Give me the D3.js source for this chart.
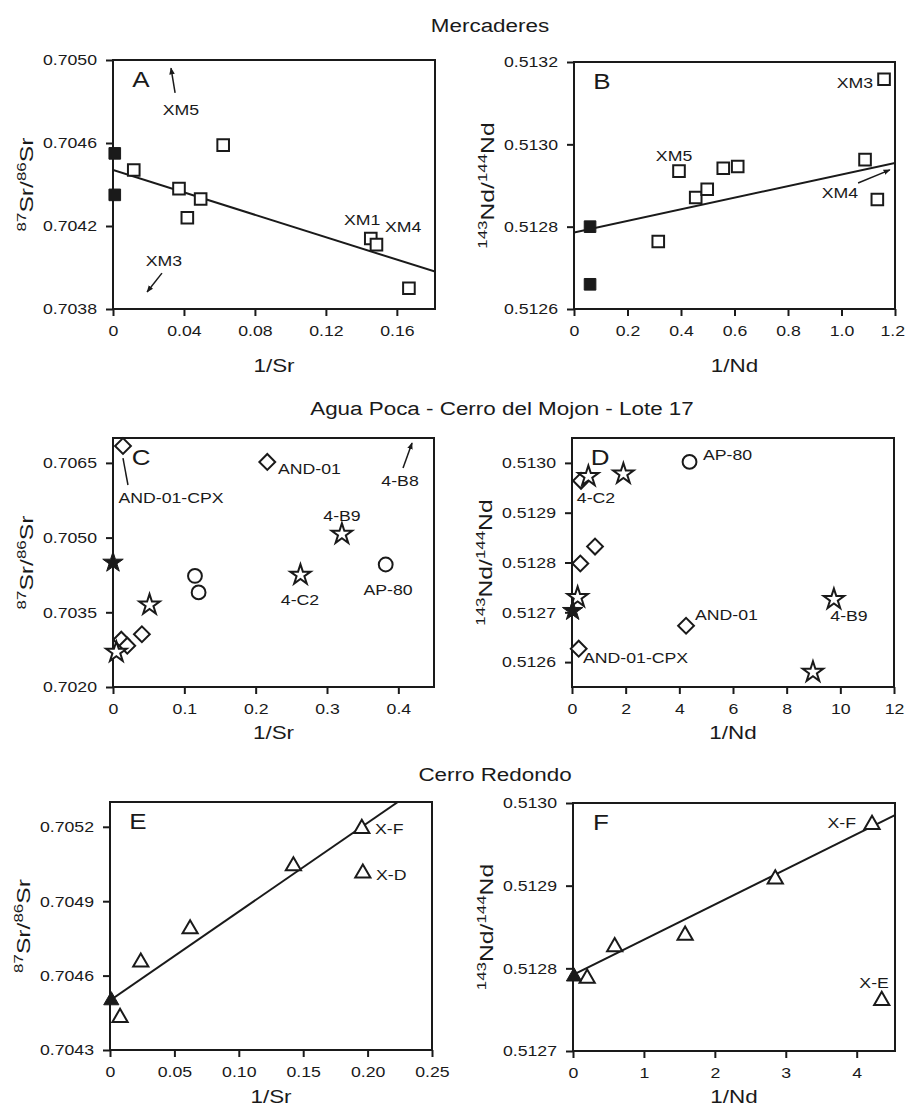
<!DOCTYPE html>
<html>
<head>
<meta charset="utf-8">
<script src="https://cdn.jsdelivr.net/npm/d3@7"></script>
<style>
  body { margin: 0; background: #fff; }
  svg { display: block; font-family: "Liberation Sans", Arial, Helvetica, sans-serif; }
  .tick line { stroke: #1a1a1a; stroke-width: 2; }
  .tick text { fill: #1a1a1a; font-size: 15px; }
</style>
</head>
<body>
<svg id="chart" width="906" height="1108"></svg>
<script>
(function (d3) {

    /***** Data: Mercaderes *****/
    var mercSrTicks = [0, 0.04, 0.08, 0.12, 0.16];
    var mercSrTickLabels = ["0", "0.04", "0.08", "0.12", "0.16"];
    var mercSrRatioTicks = [0.7038, 0.7042, 0.7046, 0.7050];
    var mercSrMantle = [[0.001, 0.70455], [0.001, 0.70435]];
    var mercSrSamples = [[0.0117, 0.70447], [0.0372, 0.70438], [0.0419, 0.70424], [0.0494, 0.70433],
                         [0.0621, 0.70459], [0.1453, 0.70414], [0.1485, 0.70411], [0.1668, 0.70390]];
    var mercSrFit = [[0, 0.70447], [0.1815, 0.70398]];
    var mercSrLabels = [["XM5", 0.0383, 0.704759], ["XM3", 0.0287, 0.704031],
                        ["XM1", 0.1404, 0.704229], ["XM4", 0.1635, 0.704195]];
    var mercSrArrows = [[0.035, 0.704841, 0.0327, 0.704961], [0.0276, 0.703973, 0.0192, 0.703882]];

    var mercNdTicks = [0, 0.2, 0.4, 0.6, 0.8, 1.0, 1.2];
    var mercNdTickLabels = ["0", "0.2", "0.4", "0.6", "0.8", "1.0", "1.2"];
    var mercNdRatioTicks = [0.5126, 0.5128, 0.5130, 0.5132];
    var mercNdMantle = [[0.06, 0.51280], [0.06, 0.51266]];
    var mercNdSamples = [[0.315, 0.512764], [0.3925, 0.512935], [0.455, 0.512871], [0.498, 0.512891],
                         [0.558, 0.512942], [0.612, 0.512946], [1.088, 0.512963], [1.134, 0.512866],
                         [1.159, 0.513158]];
    var mercNdFit = [[0, 0.512786], [1.2, 0.512955]];
    var mercNdLabels = [["XM5", 0.374, 0.512972], ["XM3", 1.05, 0.513149], ["XM4", 0.994, 0.512882]];
    var mercNdArrows = [[1.062, 0.512906, 1.181, 0.512938]];

    /***** Data: Agua Poca - Cerro del Mojon - Lote 17 *****/
    var aguaSrTicks = [0, 0.1, 0.2, 0.3, 0.4];
    var aguaSrTickLabels = ["0", "0.1", "0.2", "0.3", "0.4"];
    var aguaSrRatioTicks = [0.7020, 0.7035, 0.7050, 0.7065];
    var aguaSrMantle = [[0.0, 0.7045]];
    var aguaSrStars = [[0.0047, 0.70270], [0.0512, 0.70365], [0.2628, 0.70425], [0.3209, 0.70507]];
    var aguaSrDiamonds = [[0.014, 0.70684], [0.0116, 0.70295], [0.02, 0.70283], [0.0405, 0.70306], [0.2163, 0.70652]];
    var aguaSrCircles = [[0.1149, 0.70423], [0.12, 0.7039], [0.3823, 0.70446]];
    var aguaSrLabels = [["AND-01-CPX", 0.0813, 0.705795], ["4-B8", 0.4024, 0.706137], ["4-B9", 0.321, 0.705434],
                        ["4-C2", 0.2622, 0.703747], ["AP-80", 0.3855, 0.703948], ["AND-01", 0.2313, 0.706378, "start"]];
    var aguaSrArrows = [[0.4066, 0.706398, 0.4192, 0.7069]];
    var aguaSrLeaders = [[0.014, 0.706598, 0.021, 0.706056]];

    var aguaNdTicks = [0, 2, 4, 6, 8, 10, 12];
    var aguaNdTickLabels = ["0", "2", "4", "6", "8", "10", "12"];
    var aguaNdRatioTicks = [0.5126, 0.5127, 0.5128, 0.5129, 0.5130];
    var aguaNdMantle = [[0.025, 0.512703]];
    var aguaNdStars = [[0.61, 0.512973], [1.915, 0.512978], [0.21, 0.51273], [9.76, 0.512726], [8.98, 0.51258]];
    var aguaNdDiamonds = [[0.336, 0.512964], [0.31, 0.512798], [0.858, 0.512832], [4.25, 0.512673], [0.25, 0.512627]];
    var aguaNdCircles = [[4.38, 0.513002]];
    var aguaNdLabels = [["AP-80", 4.883, 0.513016, "start"], ["4-C2", 0.894, 0.51293],
                        ["AND-01", 4.584, 0.512695, "start"], ["4-B9", 10.324, 0.512693],
                        ["AND-01-CPX", 0.41, 0.512608, "start"]];

    /***** Data: Cerro Redondo *****/
    var redSrTicks = [0, 0.05, 0.10, 0.15, 0.20, 0.25];
    var redSrTickLabels = ["0", "0.05", "0.10", "0.15", "0.20", "0.25"];
    var redSrRatioTicks = [0.7043, 0.7046, 0.7049, 0.7052];
    var redSrMantle = [[0.001, 0.7045]];
    var redSrSamples = [[0.0078, 0.704431], [0.0239, 0.704654], [0.0622, 0.704788], [0.1424, 0.705042],
                        [0.1955, 0.705193], [0.1963, 0.705013]];
    var redSrFit = [[0, 0.7045], [0.2235, 0.7053]];
    var redSrLabels = [["X-F", 0.2057, 0.705191, "start"], ["X-D", 0.2065, 0.705006, "start"]];

    var redNdTicks = [0, 1, 2, 3, 4];
    var redNdTickLabels = ["0", "1", "2", "3", "4"];
    var redNdRatioTicks = [0.5127, 0.5128, 0.5129, 0.5130];
    var redNdMantle = [[0.014, 0.51279]];
    var redNdSamples = [[0.2, 0.512788], [0.588, 0.512826], [1.581, 0.51284], [2.852, 0.512908],
                        [4.216, 0.512974], [4.353, 0.512761]];
    var redNdFit = [[0, 0.512792], [4.532, 0.512985]];
    var redNdLabels = [["X-F", 3.99, 0.512976, "end"], ["X-E", 4.245, 0.512783]];

    /***** Configuration *****/
    var SX = 1.18;           // the original lettering is a wide grotesque
    var ink = "#1a1a1a";
    var svg = d3.select("#chart");

    svg.append("defs").append("marker")
        .attr("id", "arrow")
        .attr("viewBox", "0 0 10 10")
        .attr("refX", 9).attr("refY", 5)
        .attr("markerWidth", 7).attr("markerHeight", 7)
        .attr("markerUnits", "userSpaceOnUse")
        .attr("orient", "auto")
        .append("path").attr("d", "M0,1L10,5L0,9Z").attr("fill", ink);

    function addText(g, x, y, str, size, anchor) {
        return g.append("text")
            .attr("transform", "translate(" + x + "," + y + ") scale(" + SX + ",1)")
            .attr("text-anchor", anchor || "middle")
            .attr("font-size", size)
            .attr("fill", ink)
            .text(str);
    }

    var symbols = {
        square: d3.symbol().type(d3.symbolSquare).size(135),
        diamond: d3.symbol().type(d3.symbolSquare).size(125),
        star: d3.symbol().type(d3.symbolStar).size(130),
        circle: d3.symbol().type(d3.symbolCircle).size(150),
        triangle: d3.symbol().type(d3.symbolTriangle).size(100)
    };

    function drawPanel(p) {
        var x = d3.scaleLinear().domain(p.xDomain).range([p.left, p.right]);
        var y = d3.scaleLinear().domain(p.yDomain).range([p.bottom, p.top]);
        var g = svg.append("g");

        var xAxis = d3.axisBottom(x).tickValues(p.xTicks).tickSize(7).tickSizeOuter(0).tickPadding(9)
            .tickFormat(function (d, i) { return p.xTickLabels[i]; });
        var yAxis = d3.axisLeft(y).tickValues(p.yTicks).tickSize(7).tickSizeOuter(0).tickPadding(9)
            .tickFormat(d3.format(".4f"));

        var gx = g.append("g").attr("transform", "translate(0," + p.bottom + ")").call(xAxis);
        var gy = g.append("g").attr("transform", "translate(" + p.left + ",0)").call(yAxis);
        gx.select(".domain").remove();
        gy.select(".domain").remove();
        gx.selectAll("text").attr("transform", "scale(" + SX + ",1)").attr("font-family", null);
        gy.selectAll("text").attr("transform", "scale(" + SX + ",1)").attr("x", -16 / SX).attr("font-family", null);
        g.selectAll(".tick text").attr("font-size", null);

        // keep the last tick label inside the page, as in the printed figure
        gx.selectAll("text").each(function () {
            var r = this.getBoundingClientRect();
            if (r.right > 905) d3.select(this).attr("x", (905 - r.right) / SX);
        });

        g.append("rect")
            .attr("x", p.left).attr("y", p.top)
            .attr("width", p.right - p.left).attr("height", p.bottom - p.top)
            .attr("fill", "none").attr("stroke", ink).attr("stroke-width", 2);

        var clip = "clip-" + p.letter;
        svg.select("defs").append("clipPath").attr("id", clip)
            .append("rect").attr("x", p.left).attr("y", p.top)
            .attr("width", p.right - p.left).attr("height", p.bottom - p.top);

        if (p.fit) {
            g.append("path")
                .attr("clip-path", "url(#" + clip + ")")
                .attr("d", d3.line().x(function (d) { return x(d[0]); }).y(function (d) { return y(d[1]); })(p.fit))
                .attr("fill", "none").attr("stroke", ink).attr("stroke-width", 2);
        }

        (p.leaders || []).forEach(function (a) {
            g.append("line").attr("x1", x(a[0])).attr("y1", y(a[1])).attr("x2", x(a[2])).attr("y2", y(a[3]))
                .attr("stroke", ink).attr("stroke-width", 1.5);
        });
        (p.arrows || []).forEach(function (a) {
            g.append("line").attr("x1", x(a[0])).attr("y1", y(a[1])).attr("x2", x(a[2])).attr("y2", y(a[3]))
                .attr("stroke", ink).attr("stroke-width", 1.5).attr("marker-end", "url(#arrow)");
        });

        p.series.forEach(function (s) {
            g.selectAll(null).data(s.data).enter().append("path")
                .attr("transform", function (d) {
                    return "translate(" + x(d[0]) + "," + y(d[1]) + ")" + (s.shape === "diamond" ? " rotate(45)" : "");
                })
                .attr("d", symbols[s.shape])
                .attr("fill", s.filled ? ink : "#fff")
                .attr("stroke", ink)
                .attr("stroke-width", s.filled ? 1 : 2);
        });

        (p.labels || []).forEach(function (l) {
            addText(g, x(l[1]), y(l[2]), l[0], 15, l[3]).attr("dy", "0.35em");
        });

        addText(g, p.left + 28, p.top + 19, p.letter, 22).attr("dy", "0.35em");

        addText(g, (p.left + p.right) / 2, p.bottom + p.xTitleGap, p.xTitle, 19);

        var yt = g.append("text")
            .attr("transform", "translate(" + (p.left - 80) + "," + ((p.top + p.bottom) / 2) + ") rotate(-90) scale(1.3,1)")
            .attr("text-anchor", "middle").attr("fill", ink).attr("font-size", 19);
        yt.append("tspan").attr("font-size", 13).attr("dy", -7).text(p.yTitle[0]);
        yt.append("tspan").attr("dy", 7).text(p.yTitle[1] + "/");
        yt.append("tspan").attr("font-size", 13).attr("dy", -7).text(p.yTitle[2]);
        yt.append("tspan").attr("dy", 7).text(p.yTitle[1]);
    }

    /***** Section titles *****/
    addText(svg, 490, 32, "Mercaderes", 19);
    addText(svg, 502, 415, "Agua Poca - Cerro del Mojon - Lote 17", 19);
    addText(svg, 495, 781, "Cerro Redondo", 19);

    var srTitle = ["87", "Sr", "86"];
    var ndTitle = ["143", "Nd", "144"];

    drawPanel({
        letter: "A", left: 113, right: 435, top: 60, bottom: 309, xTitleGap: 63,
        xDomain: [0, 0.1815], yDomain: [0.7038, 0.7050],
        xTicks: mercSrTicks, xTickLabels: mercSrTickLabels, yTicks: mercSrRatioTicks,
        xTitle: "1/Sr", yTitle: srTitle, fit: mercSrFit,
        series: [{ data: mercSrSamples, shape: "square" }, { data: mercSrMantle, shape: "square", filled: true }],
        labels: mercSrLabels, arrows: mercSrArrows
    });
    drawPanel({
        letter: "B", left: 574, right: 895, top: 62, bottom: 309, xTitleGap: 63,
        xDomain: [0, 1.2], yDomain: [0.5126, 0.5132],
        xTicks: mercNdTicks, xTickLabels: mercNdTickLabels, yTicks: mercNdRatioTicks,
        xTitle: "1/Nd", yTitle: ndTitle, fit: mercNdFit,
        series: [{ data: mercNdSamples, shape: "square" }, { data: mercNdMantle, shape: "square", filled: true }],
        labels: mercNdLabels, arrows: mercNdArrows
    });
    drawPanel({
        letter: "C", left: 113, right: 434, top: 438, bottom: 687, xTitleGap: 52,
        xDomain: [0, 0.45], yDomain: [0.7020, 0.7070],
        xTicks: aguaSrTicks, xTickLabels: aguaSrTickLabels, yTicks: aguaSrRatioTicks,
        xTitle: "1/Sr", yTitle: srTitle,
        series: [{ data: aguaSrDiamonds, shape: "diamond" }, { data: aguaSrCircles, shape: "circle" },
                 { data: aguaSrStars, shape: "star" }, { data: aguaSrMantle, shape: "star", filled: true }],
        labels: aguaSrLabels, arrows: aguaSrArrows, leaders: aguaSrLeaders
    });
    drawPanel({
        letter: "D", left: 572, right: 894, top: 438, bottom: 687, xTitleGap: 52,
        xDomain: [0, 12], yDomain: [0.51255, 0.51305],
        xTicks: aguaNdTicks, xTickLabels: aguaNdTickLabels, yTicks: aguaNdRatioTicks,
        xTitle: "1/Nd", yTitle: ndTitle,
        series: [{ data: aguaNdDiamonds, shape: "diamond" }, { data: aguaNdCircles, shape: "circle" },
                 { data: aguaNdStars, shape: "star" }, { data: aguaNdMantle, shape: "star", filled: true }],
        labels: aguaNdLabels
    });
    drawPanel({
        letter: "E", left: 110, right: 432, top: 802, bottom: 1050, xTitleGap: 53,
        xDomain: [0, 0.25], yDomain: [0.7043, 0.7053],
        xTicks: redSrTicks, xTickLabels: redSrTickLabels, yTicks: redSrRatioTicks,
        xTitle: "1/Sr", yTitle: srTitle, fit: redSrFit,
        series: [{ data: redSrSamples, shape: "triangle" }, { data: redSrMantle, shape: "triangle", filled: true }],
        labels: redSrLabels
    });
    drawPanel({
        letter: "F", left: 573, right: 895, top: 803, bottom: 1051, xTitleGap: 52,
        xDomain: [0, 4.54], yDomain: [0.5127, 0.5130],
        xTicks: redNdTicks, xTickLabels: redNdTickLabels, yTicks: redNdRatioTicks,
        xTitle: "1/Nd", yTitle: ndTitle, fit: redNdFit,
        series: [{ data: redNdSamples, shape: "triangle" }, { data: redNdMantle, shape: "triangle", filled: true }],
        labels: redNdLabels
    });

})(d3);
</script>
</body>
</html>
